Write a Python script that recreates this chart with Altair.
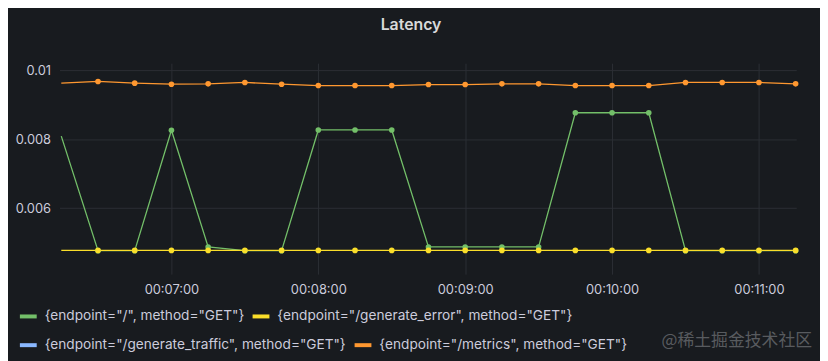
import altair as alt
import pandas as pd

times = ["00:06:15", "00:06:30", "00:06:45", "00:07:00", "00:07:15", "00:07:30", "00:07:45",
         "00:08:00", "00:08:15", "00:08:30", "00:08:45", "00:09:00", "00:09:15", "00:09:30",
         "00:09:45", "00:10:00", "00:10:15", "00:10:30", "00:10:45", "00:11:00", "00:11:15"]

series_names = ['{endpoint="/", method="GET"}',
                '{endpoint="/generate_error", method="GET"}',
                '{endpoint="/generate_traffic", method="GET"}',
                '{endpoint="/metrics", method="GET"}']
series_colors = ["#73BF69", "#FADE2A", "#8AB8FF", "#FF9830"]

root_vals = [0.00809, 0.00476, 0.00476, 0.00826, 0.00487, 0.00476, 0.00476,
             0.00827, 0.00827, 0.00827, 0.00487, 0.00487, 0.00487, 0.00487,
             0.00877, 0.00877, 0.00877, 0.00476, 0.00476, 0.00476, 0.00476]
error_vals = [0.00477] * 21
metrics_vals = [0.00963, 0.00968, 0.00963, 0.00960, 0.00961, 0.00965, 0.00960,
                0.00956, 0.00956, 0.00956, 0.00959, 0.00959, 0.00961, 0.00961,
                0.00956, 0.00956, 0.00956, 0.00965, 0.00965, 0.00965, 0.00961]

y_ticks = [0.006, 0.008, 0.01]
x_tick_minutes = [7, 8, 9, 10, 11]
watermark = ["@稀土掘金技术社区"]

rows = []
for name, vals in [(series_names[0], root_vals), (series_names[1], error_vals),
                   (series_names[3], metrics_vals)]:
    for i, (t, v) in enumerate(zip(times, vals)):
        rows.append({"t": "2024-01-01T" + t, "v": v, "series": name, "idx": i})
df = pd.DataFrame(rows)

x_scale = alt.Scale(domain=[alt.DateTime(year=2024, month=1, date=1, hours=0, minutes=6, seconds=14, milliseconds=270),
                            alt.DateTime(year=2024, month=1, date=1, hours=0, minutes=11, seconds=15, milliseconds=240)])
y_scale = alt.Scale(domain=[0.00408, 0.01021], nice=False, zero=False)

x_enc = alt.X("t:T", scale=x_scale, title=None,
              axis=alt.Axis(values=[alt.DateTime(year=2024, month=1, date=1, hours=0, minutes=m) for m in x_tick_minutes],
                            format="%H:%M:%S", labelPadding=10, ticks=False, domain=False,
                            grid=True, labelFlush=False))
y_enc = alt.Y("v:Q", scale=y_scale, title=None,
              axis=alt.Axis(values=y_ticks, format=".3~f", labelPadding=9, ticks=False,
                            domain=False, grid=True))


def series_group(names, colors, legend_y):
    scale = alt.Scale(domain=names, range=colors)
    data = df[df["series"].isin(names)]
    base = alt.Chart(data)
    line = base.mark_line(strokeWidth=1.3, clip=True).encode(
        x=x_enc, y=y_enc,
        color=alt.Color("series:N", scale=scale, sort=names,
                        legend=alt.Legend(title=None, orient="none", legendX=-42, legendY=legend_y,
                                          direction="horizontal", columnPadding=0,
                                          symbolType="stroke", symbolStrokeWidth=4,
                                          symbolSize=289, labelFontSize=13.8, labelFont="Inter",
                                          labelColor="#ccccdc", labelLimit=0, labelOffset=6,
                                          padding=0)),
        detail="series:N",
    )
    pts = base.transform_filter("datum.idx > 0").mark_circle(size=32, opacity=1).encode(
        x=x_enc, y=y_enc,
        color=alt.Color("series:N", scale=scale, legend=None),
    )
    return alt.layer(line, pts)


group_a = series_group(series_names[0:2], series_colors[0:2], 245)
group_b = series_group(series_names[2:4], series_colors[2:4], 274)

wm = alt.Chart(pd.DataFrame({"wm": watermark})).mark_text(
    align="right", baseline="middle", fontSize=17, font="Noto Sans CJK SC",
    color="#8e9094", opacity=0.55,
).encode(text="wm:N", x=alt.value(760), y=alt.value(281))

chart = alt.layer(group_a, group_b, wm).resolve_scale(color="independent").resolve_legend(
    color="independent"
).properties(
    width=744, height=213,
    title=alt.TitleParams("Latency", anchor="middle", dx=-17, offset=31, fontSize=16,
                          fontWeight=600, font="Inter", color="#d8d9da"),
    background="#181b1f",
    padding={"left": 52, "top": 54, "right": 24, "bottom": 86},
    autosize=alt.AutoSizeParams(type="none"),
).configure_view(stroke=None).configure_axis(
    labelFont="Inter", labelFontSize=13, labelColor="#ccccdc",
    gridColor="#2c2f35", gridWidth=1,
)

chart.save("out.html", embed_options={"renderer": "svg", "actions": False})
